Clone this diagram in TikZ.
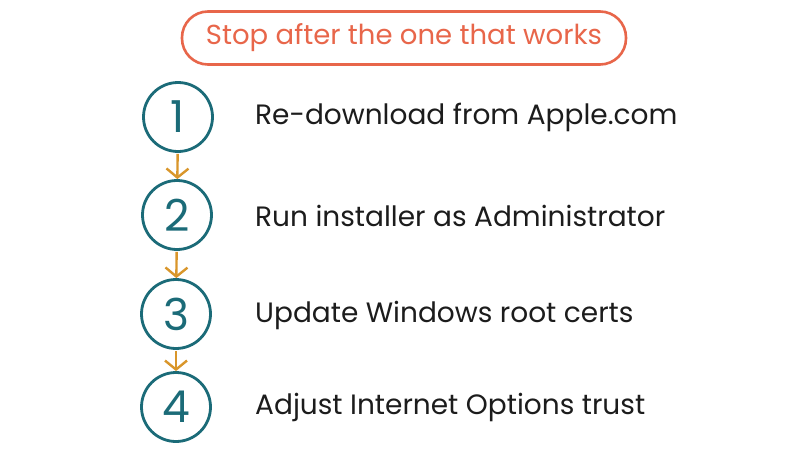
\documentclass[tikz,border=0pt]{standalone}
\usepackage{fontspec}
\setmainfont{Poppins}
\usetikzlibrary{arrows.meta}
\definecolor{teal}{HTML}{1B6B78}
\definecolor{ora}{HTML}{D9962B}
\definecolor{red}{HTML}{E8664A}
\definecolor{ink}{HTML}{1C1C1C}
\tikzset{
  x=1pt,y=-1pt,
  num/.style={circle,draw=teal,line width=2.8pt,minimum size=69pt,inner sep=0pt,text=teal,font=\fontsize{44}{44}\selectfont},
  lbl/.style={anchor=west,text=ink,font=\fontsize{28}{28}\selectfont,inner sep=0pt},
  flow/.style={draw=ora,line width=2.4pt,shorten <=1pt,-{Straight Barb[length=9pt,width=22pt,line width=2.4pt]}},
  title/.style={draw=red,line width=2.6pt,rounded corners=26pt,text=red,minimum width=444pt,minimum height=53pt,font=\fontsize{27.5}{27.5}\selectfont}
}
\begin{document}
\begin{tikzpicture}
\useasboundingbox[fill=white] (0,0) rectangle (800,450);
\node[title] (t) at (404,38) {Stop after the one that works};
\node[num] (n1) at (178,117) {1};
\node[num] (n2) at (177,215) {2};
\node[num] (n3) at (176,314) {3};
\node[num] (n4) at (176,407) {4};
\node[lbl] (l1) at (255,117) {Re-download from Apple.com};
\node[lbl] (l2) at (255,216) {Run installer as Administrator};
\node[lbl] (l3) at (255,315) {Update Windows root certs};
\node[lbl] (l4) at (255,407) {Adjust Internet Options trust};
\draw[flow] (n1) -- (n2);
\draw[flow] (n2) -- (n3);
\draw[flow] (n3) -- (n4);
\end{tikzpicture}
\end{document}
